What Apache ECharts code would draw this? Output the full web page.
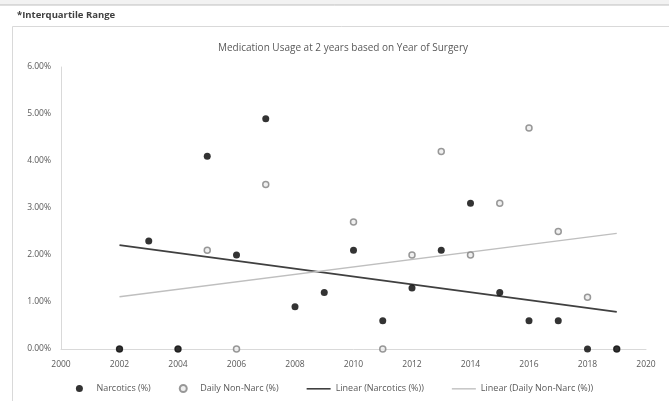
<!DOCTYPE html>
<html><head><meta charset="utf-8">
<script src="https://cdn.jsdelivr.net/npm/echarts@6/dist/echarts.min.js"></script>
<style>html,body{margin:0;padding:0;background:#fff}#c{width:669px;height:401px}</style>
</head><body><div id="c"></div>
<script>
const years = [2002,2003,2004,2005,2006,2007,2008,2009,2010,2011,2012,2013,2014,2015,2016,2017,2018,2019];
const narcotics = [0,2.3,0,4.1,2.0,4.9,0.9,1.2,2.1,0.6,1.3,2.1,3.1,1.2,0.6,0.6,0,0];
const nonNarcYears = [2002,2004,2005,2006,2007,2010,2011,2012,2013,2014,2015,2016,2017,2018,2019];
const nonNarc = [0,0,2.1,0,3.5,2.7,0,2.0,4.2,2.0,3.1,4.7,2.5,1.1,0];
const trendYears = [2002,2019];
const narcTrend = [2.21,0.79];
const nonNarcTrend = [1.11,2.46];
const yTicks = ['0.00%','1.00%','2.00%','3.00%','4.00%','5.00%','6.00%'];
const title = 'Medication Usage at 2 years based on Year of Surgery';

const pair = (xs, ys) => xs.map((x,i)=>[x, ys[i]]);
const font = 'Open Sans, Liberation Sans, sans-serif';
const lineIcon = 'path://M0,0L0,0M0,3L24,3L24,4.6L0,4.6ZM24,7L24,7';
const chart = echarts.init(document.getElementById('c'));
chart.setOption({
  animation:false,
  backgroundColor:'#fff',
  title:{text:title,left:338,textAlign:'center',top:38,textStyle:{fontSize:10,fontWeight:'normal',color:'#595959',fontFamily:font}},
  graphic:[
    {type:'rect',shape:{x:0,y:0,width:669,height:5},style:{fill:'#f2f2f2'}},
    {type:'line',shape:{x1:0,y1:5,x2:669,y2:5},style:{stroke:'#bfbfbf',lineWidth:1}},
    {type:'text',left:17,top:10,style:{text:'*Interquartile Range',fontSize:9.5,fontWeight:'bold',fill:'#404040',fontFamily:font}},
    {type:'rect',shape:{x:12.5,y:26.5,width:670,height:390},style:{fill:'none',stroke:'#d9d9d9',lineWidth:1}}
  ],
  grid:{left:61,right:23,top:67,bottom:52},
  xAxis:{type:'value',min:2000,max:2020,interval:2,
    axisLine:{show:true,onZero:true,lineStyle:{color:'#d9d9d9'}},axisTick:{show:false},splitLine:{show:false},
    axisLabel:{fontSize:8.5,color:'#595959',margin:11,fontFamily:font,formatter:(v)=>String(v)}},
  yAxis:{type:'value',min:0,max:6,interval:1,
    axisLine:{show:true,lineStyle:{color:'#d9d9d9'}},axisTick:{show:false},
    splitLine:{show:false},
    axisLabel:{fontSize:8.5,color:'#595959',margin:10,fontFamily:font,formatter:(v)=>yTicks[v]}},
  legend:{bottom:3,left:'center',itemGap:28,itemWidth:24,itemHeight:7,
    textStyle:{fontSize:9,color:'#595959',fontFamily:font},
    data:[
      {name:'Narcotics (%)',icon:'circle'},
      {name:'Daily Non-Narc (%)',icon:'circle'},
      {name:'Linear (Narcotics (%))',icon:lineIcon},
      {name:'Linear (Daily Non-Narc (%))',icon:lineIcon}
    ]},
  series:[
    {name:'Linear (Narcotics (%))',type:'line',data:pair(trendYears,narcTrend),symbol:'none',
      lineStyle:{color:'#404040',width:2},itemStyle:{color:'#404040'},z:1},
    {name:'Linear (Daily Non-Narc (%))',type:'line',data:pair(trendYears,nonNarcTrend),symbol:'none',
      lineStyle:{color:'#bfbfbf',width:1.5},itemStyle:{color:'#c8c8c8'},z:1},
    {name:'Daily Non-Narc (%)',type:'scatter',data:pair(nonNarcYears,nonNarc),symbol:'circle',symbolSize:6,
      itemStyle:{color:'#ececec',borderColor:'#808080',borderWidth:1.5},z:2},
    {name:'Narcotics (%)',type:'scatter',data:pair(years,narcotics),symbol:'circle',symbolSize:7,
      itemStyle:{color:'#000'},z:3}
  ]
});
</script></body></html>
